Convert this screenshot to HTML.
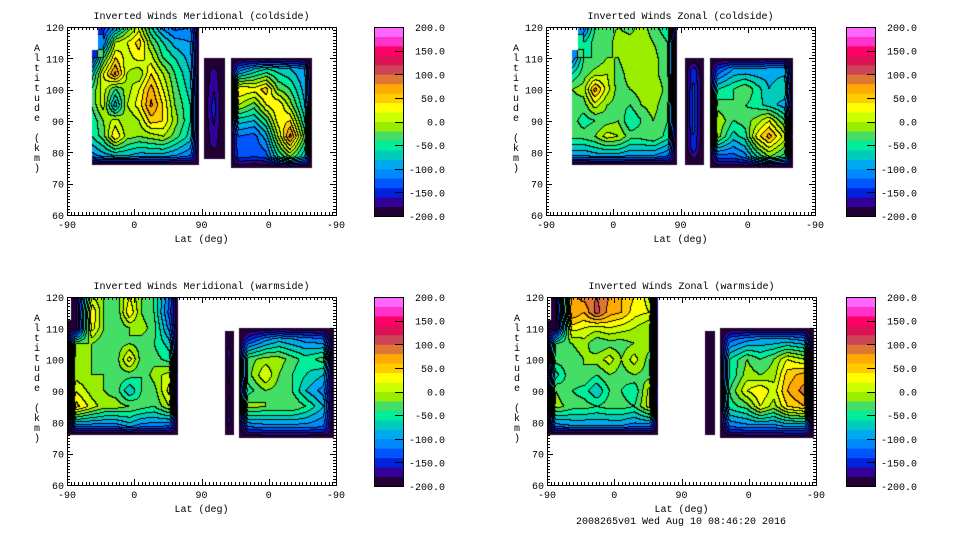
<!DOCTYPE html>
<html><head><meta charset="utf-8">
<style>
html,body{margin:0;padding:0;background:#fff;}
#root{position:relative;width:960px;height:540px;overflow:hidden;background:#fff;font-family:"Liberation Mono","DejaVu Sans Mono",monospace;}
canvas{position:absolute;}
svg{position:absolute;left:0;top:0;}
text{font-family:"Liberation Mono","DejaVu Sans Mono",monospace;font-size:10px;fill:#000;}
</style></head>
<body>
<div id="root">
<svg id="ov" width="960" height="540"></svg>
</div>
<script>
// ===== colour scale =====
const levelMin = -200, levelStep = 20;
const bandColors = ["#220033","#330099","#0022dd","#0055ff","#0088ff","#00aaee","#00ccbb","#00ee99","#44dd66","#99ee00","#ccff00","#ffff00","#ffcc00","#ffaa00","#dd7733","#cc4455","#dd1155","#ff0066","#ff33cc","#ff66ff"];
const cbarLabels = ["200.0","150.0","100.0","50.0","0.0","-50.0","-100.0","-150.0","-200.0"];
const cbarValues = [200,150,100,50,0,-50,-100,-150,-200];
const xTickLabels = ["-90","0","90","0","-90"];
const xTickU = [0,90,180,270,360];
const yTickVals = [60,70,80,90,100,110,120];

// ===== Panel 1: Meridional coldside =====
const p1A_u = [33,49,65,81,97,113,129,145,161,177];
const p1A_alt = [120,115,110,105,100,95,90,85,80,76];
const p1A_v = [
[null,-150,-110,-40,10,-60,-110,-130,-120,-200],
[null,-120,0,20,50,-20,-60,-90,-100,-200],
[-150,-40,40,10,30,10,-40,-60,-90,-200],
[-80,20,85,0,-20,40,0,-40,-80,-200],
[-40,10,-40,-10,20,70,20,-30,-70,-200],
[-40,10,-95,0,30,85,40,-20,-60,-200],
[-60,-20,10,-20,0,50,40,-10,-60,-200],
[-60,-30,40,-10,-20,-10,0,-30,-70,-200],
[-110,-90,-80,-80,-90,-90,-90,-100,-120,-200],
[-200,-200,-200,-200,-200,-200,-200,-200,-200,-200]];
const p1B_u = [183,197,211];
const p1B_alt = [110,104,94,84,78];
const p1B_v = [[-200,-200,-200],[-200,-170,-200],[-200,-150,-200],[-200,-170,-200],[-200,-200,-200]];
const p1C_u = [219,235,251,267,283,299,315,328];
const p1C_alt = [110,105,100,95,90,85,80,75];
const p1C_v = [
[-200,-200,-200,-200,-200,-200,-200,-200],
[-200,-120,-80,-60,-70,-80,-100,-200],
[-200,40,30,50,-20,-40,-90,-200],
[-200,0,-30,20,40,-10,-80,-200],
[-200,-70,-80,-40,30,40,-60,-200],
[-200,-120,-130,-90,0,90,-30,-200],
[-200,-130,-140,-130,-60,-20,-80,-200],
[-200,-200,-200,-200,-200,-200,-200,-200]];

// ===== Panel 2: Zonal coldside =====
const p2A_u = [35,51,66,82,97,113,128,144,159,175];
const p2A_alt = [120,115,110,105,100,95,90,85,80,76];
const p2A_v = [
[null,-120,-40,-30,-20,-30,-10,-30,-60,-200],
[null,-60,-30,-30,-10,-10,-10,-20,-40,-200],
[-120,-40,-40,-20,-20,-5,-10,-10,-40,-200],
[-60,-30,-10,0,-30,-10,-10,-10,-40,-200],
[-20,-10,70,10,-30,-20,-10,0,-30,-200],
[-30,-30,10,-20,-30,-40,-20,-10,-40,-200],
[-30,-50,-40,-30,-20,-60,-40,-20,-40,-200],
[-30,-30,-20,10,0,-30,-30,-20,-50,-200],
[-100,-100,-90,-90,-90,-100,-100,-100,-120,-200],
[-200,-200,-200,-200,-200,-200,-200,-200,-200,-200]];
const p2B_u = [186,198,211];
const p2B_alt = [110,104,94,84,76];
const p2B_v = [[-200,-200,-200],[-200,-140,-200],[-200,-130,-200],[-200,-140,-200],[-200,-200,-200]];
const p2C_u = [219,235,251,267,283,299,315,331];
const p2C_alt = [110,105,100,95,90,85,80,75];
const p2C_v = [
[-200,-200,-200,-200,-200,-200,-200,-200],
[-200,-140,-100,-100,-100,-90,-90,-200],
[-200,-60,-40,-20,-50,-80,-60,-200],
[-200,-30,-40,-40,-50,-70,-90,-200],
[-200,0,-40,-30,-10,20,-40,-200],
[-200,-10,-70,-50,30,70,10,-200],
[-200,-130,-130,-110,-60,-20,-50,-200],
[-200,-200,-200,-200,-200,-200,-200,-200]];

// ===== Panel 3: Meridional warmside =====
const p3A_u = [0,17,34,50,67,84,100,117,133,149];
const p3A_alt = [120,115,110,105,100,95,90,85,80,76];
const p3A_v = [
[null,-200,0,-20,-30,20,-20,-40,-120,-200],
[null,-200,40,-20,-40,40,-20,-40,-130,-200],
[-200,-200,30,-20,-40,-20,-10,-30,-110,-200],
[-200,-20,-20,-40,-30,-20,-30,-40,-70,-200],
[-200,-10,-20,-30,-30,30,-30,-30,-50,-200],
[-200,-10,-20,-20,-30,-30,-40,-10,10,-200],
[-200,20,-10,-20,-30,-80,-40,-30,30,-200],
[-200,50,10,-10,-10,-20,-30,-40,0,-200],
[-200,-110,-110,-110,-110,-90,-110,-110,-120,-200],
[-200,-200,-200,-200,-200,-200,-200,-200,-200,-200]];
const p3B_u = [211,217,223];
const p3B_alt = [109,100,90,82,76];
const p3B_v = [[-200,-200,-200],[-200,-170,-200],[-200,-180,-200],[-200,-170,-200],[-200,-200,-200]];
const p3C_u = [230,248,266,284,302,320,338,357];
const p3C_alt = [110,105,100,95,90,85,80,75];
const p3C_v = [
[-200,-200,-200,-200,-200,-200,-200,-200],
[-200,-150,-110,-90,-100,-110,-120,-200],
[-200,-30,-10,-10,-30,-50,-30,-200],
[-200,-30,20,-20,-40,-60,-80,-200],
[-200,-50,-20,-30,-40,-80,-110,-200],
[-200,-10,-20,-20,-20,-40,-80,-200],
[-200,-120,-110,-110,-110,-110,-120,-200],
[-200,-200,-200,-200,-200,-200,-200,-200]];

// ===== Panel 4: Zonal warmside =====
const p4A_u = [0,17,34,50,67,84,100,117,133,149];
const p4A_alt = [120,115,110,105,100,95,90,85,80,76];
const p4A_v = [
[null,-200,70,90,100,80,60,40,10,-200],
[null,-200,80,60,110,70,60,30,20,-200],
[-200,-200,30,20,10,20,10,0,-20,-200],
[-200,-40,-20,-10,-40,-30,-30,-20,-10,-200],
[-200,-30,-30,-20,-10,10,-20,10,-30,-200],
[-200,-70,-20,-20,-40,-20,-30,-20,-30,-200],
[-200,-20,-40,-50,-80,-40,-40,-60,10,-200],
[-200,-10,-30,-30,-40,-30,-30,-40,10,-200],
[-200,-110,-100,-100,-100,-100,-100,-110,-110,-200],
[-200,-200,-200,-200,-200,-200,-200,-200,-200,-200]];
const p4B_u = [211,218,225];
const p4B_alt = [109,100,90,82,76];
const p4B_v = [[-200,-200,-200],[-200,-190,-200],[-200,-190,-200],[-200,-190,-200],[-200,-200,-200]];
const p4C_u = [232,250,268,286,304,322,340,357];
const p4C_alt = [110,105,100,95,90,85,80,75];
const p4C_v = [
[-200,-200,-200,-200,-200,-200,-200,-200],
[-200,-130,-110,-100,-100,-100,-110,-200],
[-200,-60,-20,-40,-20,20,0,-200],
[-200,-60,-10,-20,-10,50,70,-200],
[-200,-40,20,40,10,60,90,-200],
[-200,-50,-30,20,-10,40,60,-200],
[-200,-120,-110,-110,-110,-100,-100,-200],
[-200,-200,-200,-200,-200,-200,-200,-200]];

const W = 269, H = 188;
const panels = [
 {name:"meridional-coldside", title:"Inverted Winds Meridional (coldside)", px:67, py:27, cb:374, regions:[[p1A_u,p1A_alt,p1A_v],[p1B_u,p1B_alt,p1B_v],[p1C_u,p1C_alt,p1C_v]]},
 {name:"zonal-coldside", title:"Inverted Winds Zonal (coldside)", px:546, py:27, cb:846, regions:[[p2A_u,p2A_alt,p2A_v],[p2B_u,p2B_alt,p2B_v],[p2C_u,p2C_alt,p2C_v]]},
 {name:"meridional-warmside", title:"Inverted Winds Meridional (warmside)", px:67, py:297, cb:374, regions:[[p3A_u,p3A_alt,p3A_v],[p3B_u,p3B_alt,p3B_v],[p3C_u,p3C_alt,p3C_v]]},
 {name:"zonal-warmside", title:"Inverted Winds Zonal (warmside)", px:547, py:297, cb:846, regions:[[p4A_u,p4A_alt,p4A_v],[p4B_u,p4B_alt,p4B_v],[p4C_u,p4C_alt,p4C_v]]}
];

function xScale(u){ return u*W/360; }
function yScale(a){ return (120-a)*H/60; }

function findIdx(arr, x, desc){
  for(let i=0;i<arr.length-1;i++){
    const a=arr[i], b=arr[i+1];
    if(desc ? (x<=a && x>=b) : (x>=a && x<=b)) return i;
  }
  return -1;
}
function warpAxis(arr, firstDark, lastDark){
  const a=arr.slice(); const n=a.length;
  if(n>3){
    if(firstDark) a[1]=a[0]+0.7*(arr[1]-arr[0]);
    if(lastDark) a[n-2]=a[n-1]-0.7*(arr[n-1]-arr[n-2]);
  }
  return a;
}
function allDark(list){ return list.every(v=>v==null||v<=-180); }
function prepRegion(reg){
  const us=reg[0], as=reg[1], vs=reg[2];
  const colFirst=vs.map(r=>r[0]), colLast=vs.map(r=>r[r.length-1]);
  return [warpAxis(us, allDark(colFirst), allDark(colLast)),
          warpAxis(as, allDark(vs[0]), allDark(vs[vs.length-1])), vs];
}
function sample(reg, u, alt){
  const us=reg[0], as=reg[1], vs=reg[2];
  const i=findIdx(us,u,false), j=findIdx(as,alt,true);
  if(i<0||j<0) return null;
  const tx=(u-us[i])/(us[i+1]-us[i]), ty=(as[j]-alt)/(as[j]-as[j+1]);
  const c00=vs[j][i], c10=vs[j][i+1], c01=vs[j+1][i], c11=vs[j+1][i+1];
  if(c00==null||c10==null||c01==null||c11==null){
    const ni = tx<0.5?i:i+1, nj = ty<0.5?j:j+1;
    return vs[nj][ni];
  }
  return c00*(1-tx)*(1-ty)+c10*tx*(1-ty)+c01*(1-tx)*ty+c11*tx*ty;
}
function hexRGB(h){ return [parseInt(h.substr(1,2),16),parseInt(h.substr(3,2),16),parseInt(h.substr(5,2),16)]; }
const rgbs = bandColors.map(hexRGB);

const root=document.getElementById('root');
const ov=document.getElementById('ov');
const NS="http://www.w3.org/2000/svg";
function mk(tag, attrs, parent){
  const e=document.createElementNS(NS,tag);
  for(const k in attrs) e.setAttribute(k, attrs[k]);
  (parent||ov).appendChild(e); return e;
}
function txt(x,y,s,anchor,parent){
  const t=mk('text',{x:x,y:y,'text-anchor':anchor||'start'},parent);
  t.textContent=s; return t;
}

panels.forEach(p=>{
  const regs=p.regions.map(prepRegion);
  const cv=document.createElement('canvas');
  cv.width=W; cv.height=H;
  cv.style.left=p.px+'px'; cv.style.top=p.py+'px';
  
  
  root.insertBefore(cv, ov);
  const ctx=cv.getContext('2d');
  const img=ctx.createImageData(W,H);
  const band=new Int16Array(W*H).fill(-1);
  for(let y=0;y<H;y++){
    const alt=120-(y+0.5)*60/H;
    for(let x=0;x<W;x++){
      const u=(x+0.5)*360/W;
      let v=null;
      for(const r of regs){ v=sample(r,u,alt); if(v!=null) break; }
      if(v==null) continue;
      let b=Math.floor((v-levelMin)/levelStep);
      if(b<0)b=0; if(b>bandColors.length-1)b=bandColors.length-1;
      band[y*W+x]=b;
    }
  }
  for(let y=0;y<H;y++)for(let x=0;x<W;x++){
    const k=y*W+x, b=band[k], o=k*4;
    if(b<0){img.data[o]=255;img.data[o+1]=255;img.data[o+2]=255;img.data[o+3]=255;continue;}
    let line=false;
    if(x<W-1){const n=band[k+1]; if(n!==b && n>=0) line=true;}
    if(y<H-1){const n=band[k+W]; if(n!==b && n>=0) line=true;}
    const c=line?[0,0,0]:rgbs[b];
    img.data[o]=c[0];img.data[o+1]=c[1];img.data[o+2]=c[2];img.data[o+3]=255;
  }
  ctx.putImageData(img,0,0);

  const g=mk('g',{transform:'translate('+p.px+','+p.py+')'});
  
  
  mk('rect',{x:0.5,y:0.5,width:W,height:H,fill:'none',stroke:'#000','stroke-width':1},g);
  let d='';
  for(let a=60;a<=120;a++){
    const y=Math.round(yScale(a))+0.5, len=(a%10===0)?6:3;
    d+='M0,'+y+'h'+len+'M'+W+','+y+'h-'+len;
  }
  for(let u=0;u<=360;u+=5){
    const x=Math.round(xScale(u))+0.5, len=(u%90===0)?6:3;
    d+='M'+x+','+H+'v-'+len+'M'+x+',0v'+len;
  }
  mk('path',{d:d,stroke:'#000','stroke-width':1,fill:'none'},g);
  yTickVals.forEach(a=>{
    const t=txt(-3, yScale(a)+4, String(a), 'end', g);
    
    
  });
  xTickU.forEach((u,i)=>{
    const t=txt(xScale(u), H+13, xTickLabels[i], 'middle', g);
    
    
  });
  const tt=txt(W/2, -8, p.title, 'middle', g);
  
  
  const xt=txt(W/2, H+27, 'Lat (deg)', 'middle', g);
  
  
  const yl=mk('g',{},g);
  
  
  const ys='Altitude (km)';
  for(let i=0;i<ys.length;i++){ txt(-30, 24+i*10, ys[i], 'middle', yl); }

  const cg=mk('g',{transform:'translate('+p.cb+','+p.py+')'});
  
  
  const cbW=29, cbH=189;
  const cbY=v=>(200-v)*cbH/400;
  bandColors.forEach((c,i)=>{
    const v0=levelMin+i*levelStep, v1=v0+levelStep;
    const r=mk('rect',{x:0,y:cbY(v1),width:cbW,height:cbY(v0)-cbY(v1)+0.5,fill:c},cg);
    
    
  });
  mk('rect',{x:0.5,y:0.5,width:cbW,height:cbH,fill:'none',stroke:'#000'},cg);
  cbarValues.forEach((v,i)=>{
    const y=cbY(v);
    mk('path',{d:'M'+(cbW-8)+','+(Math.round(y)+0.5)+'h8',stroke:'#000'},cg);
    const t=txt(71, y+4, cbarLabels[i], 'end', cg);
    
    
  });
});
const ft=txt(681, 524, '2008265v01 Wed Aug 10 08:46:20 2016', 'middle');


</script>
</body></html>
